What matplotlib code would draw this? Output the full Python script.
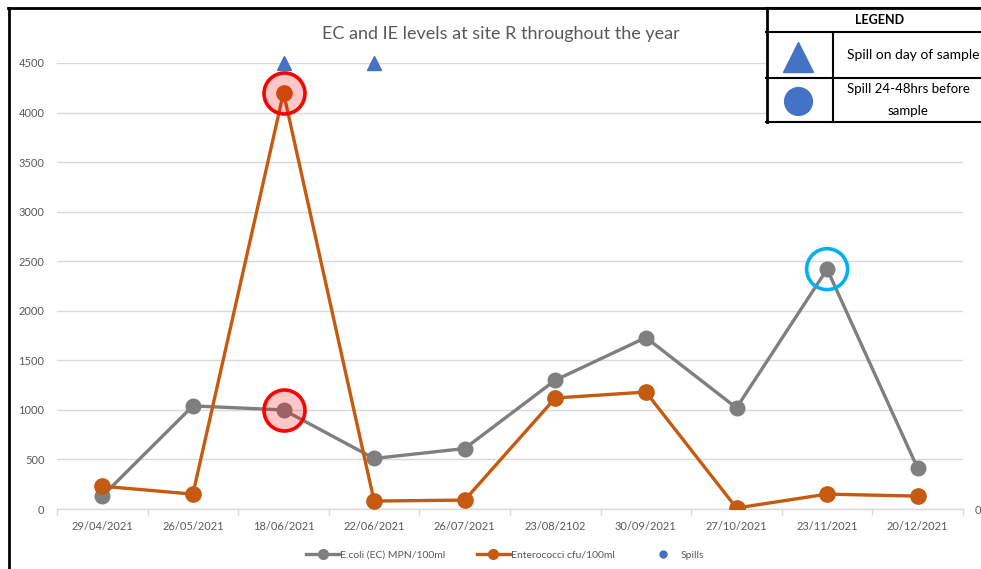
import matplotlib
matplotlib.use("Agg")
import matplotlib.pyplot as plt
from matplotlib.lines import Line2D
from matplotlib.patches import Rectangle

plt.rcParams['font.family'] = ['Lato', 'DejaVu Sans']

# Sampling dates and measured levels
dates = ["29/04/2021", "26/05/2021", "18/06/2021", "22/06/2021", "26/07/2021",
         "23/08/2102", "30/09/2021", "27/10/2021", "23/11/2021", "20/12/2021"]
ecoli = [130, 1040, 1000, 510, 610, 1300, 1730, 1020, 2420, 410]
entero = [230, 150, 4200, 80, 90, 1120, 1180, 10, 150, 130]
# Spill events (plotted at the top of the scale)
spill_dates = ["18/06/2021", "22/06/2021"]
spill_level = [4500, 4500]
# Highlighted readings
red_marks_date = ["18/06/2021", "18/06/2021"]
red_marks_val = [4200, 1000]
blue_marks_date = ["23/11/2021"]
blue_marks_val = [2420]
yticks = [0, 500, 1000, 1500, 2000, 2500, 3000, 3500, 4000, 4500]

W, H = 981, 569
GRAY = "#7f7f7f"
ORANGE = "#c55a11"
BLUE = "#4472c4"
TXT = "#595959"
GRID = "#d9d9d9"

fig = plt.figure(figsize=(W / 100, H / 100), dpi=100)
ax = fig.add_axes([57 / W, 60 / H, 906 / W, 446 / H])

xi = {d: i for i, d in enumerate(dates)}
x = list(range(len(dates)))

ax.plot(x, ecoli, color=GRAY, lw=2.4, marker='o', ms=10.5, zorder=3,
        label="E.coli (EC) MPN/100ml")
ax.plot(x, entero, color=ORANGE, lw=2.4, marker='o', ms=11, zorder=4,
        label="Enterococci cfu/100ml")
ax.plot([xi[d] for d in spill_dates], spill_level, linestyle='none', marker='^',
        color=BLUE, ms=10, zorder=5, clip_on=False)

ax.scatter([xi[d] for d in red_marks_date], red_marks_val, s=870,
           facecolor=(1, 0, 0, 0.22), edgecolor="#ff0000", linewidth=2.6,
           zorder=6, clip_on=False)
ax.scatter([xi[d] for d in blue_marks_date], blue_marks_val, s=870,
           facecolor='none', edgecolor="#00b0f0", linewidth=2.6,
           zorder=6, clip_on=False)

ax.set_xlim(-0.5, len(dates) - 0.5)
ax.set_ylim(0, 4500)
ax.set_yticks(yticks)
ax.set_yticklabels([str(v) for v in yticks])
ax.set_xticks(x)
ax.set_xticklabels(dates)
ax.tick_params(axis='y', length=0, labelsize=8, labelcolor=TXT, pad=9)
ax.tick_params(axis='x', length=0, labelsize=8, labelcolor=TXT, pad=9)
ax.set_xticks([i - 0.5 for i in range(len(dates) + 1)], minor=True)
ax.tick_params(axis='x', which='minor', length=4, color=GRID, width=1)
ax.grid(axis='y', color=GRID, lw=1)
ax.set_axisbelow(True)
for s in ['top', 'right', 'left']:
    ax.spines[s].set_visible(False)
ax.spines['bottom'].set_color(GRID)
ax.spines['bottom'].set_linewidth(1)

# Secondary axis zero label, partly outside the figure
fig.text(975 / W, 1 - 510 / H, "0", fontsize=8, color=TXT, va='center', ha='left')

fig.text(501 / W, 1 - 34 / H, "EC and IE levels at site R throughout the year",
         fontsize=13, color=TXT, ha='center', va='center')

handles = [
    Line2D([], [], color=GRAY, lw=2.4, marker='o', ms=7),
    Line2D([], [], color=ORANGE, lw=2.4, marker='o', ms=7),
    Line2D([], [], color=BLUE, lw=0, marker='o', ms=5),
]
labels = ["E.coli (EC) MPN/100ml", "Enterococci cfu/100ml", "Spills"]
fig.legend(handles, labels, loc='center', bbox_to_anchor=(505 / W, 1 - 555 / H),
           ncol=3, frameon=False, fontsize=7.5, labelcolor=TXT,
           handlelength=3.2, handletextpad=0.1, columnspacing=3.0)


def P(px, py):
    return (px / W, 1 - py / H)


def hline(x0, x1, y, lw=1.5):
    fig.add_artist(Line2D([x0 / W, x1 / W], [1 - y / H, 1 - y / H],
                          color='black', lw=lw, transform=fig.transFigure,
                          zorder=11))


def vline(xp, y0, y1, lw=1.5):
    fig.add_artist(Line2D([xp / W, xp / W], [1 - y0 / H, 1 - y1 / H],
                          color='black', lw=lw, transform=fig.transFigure,
                          zorder=11))


# Outer frame
hline(8, W + 5, 8, lw=2)
vline(9, 8, H + 5, lw=2)

# Legend table on the top right
fig.add_artist(Rectangle(P(766, 122), (W - 766 + 5) / W, (122 - 8) / H,
                         transform=fig.transFigure, facecolor='white',
                         edgecolor='none', zorder=9))
hline(766, W + 5, 8)
hline(766, W + 5, 32)
hline(766, W + 5, 78)
hline(766, W + 5, 122)
vline(767, 8, 122, lw=2)
vline(833, 32, 122)
fig.text(880 / W, 1 - 20 / H, "LEGEND", fontsize=9, fontweight='bold',
         ha='center', va='center', color='black', zorder=12)
fig.add_artist(Line2D([798 / W], [1 - 57 / H], marker='^', ms=22, color=BLUE,
                      lw=0, transform=fig.transFigure, zorder=12))
fig.add_artist(Line2D([798 / W], [1 - 101 / H], marker='o', ms=20, color=BLUE,
                      lw=0, transform=fig.transFigure, zorder=12))
fig.text(847 / W, 1 - 55 / H, "Spill on day of sample", fontsize=10,
         ha='left', va='center', color='black', zorder=12)
fig.text(908 / W, 1 - 89 / H, "Spill 24-48hrs before", fontsize=9.5,
         ha='center', va='center', color='black', zorder=12)
fig.text(908 / W, 1 - 111 / H, "sample", fontsize=9.5,
         ha='center', va='center', color='black', zorder=12)

fig.savefig("out.png", dpi=100)
